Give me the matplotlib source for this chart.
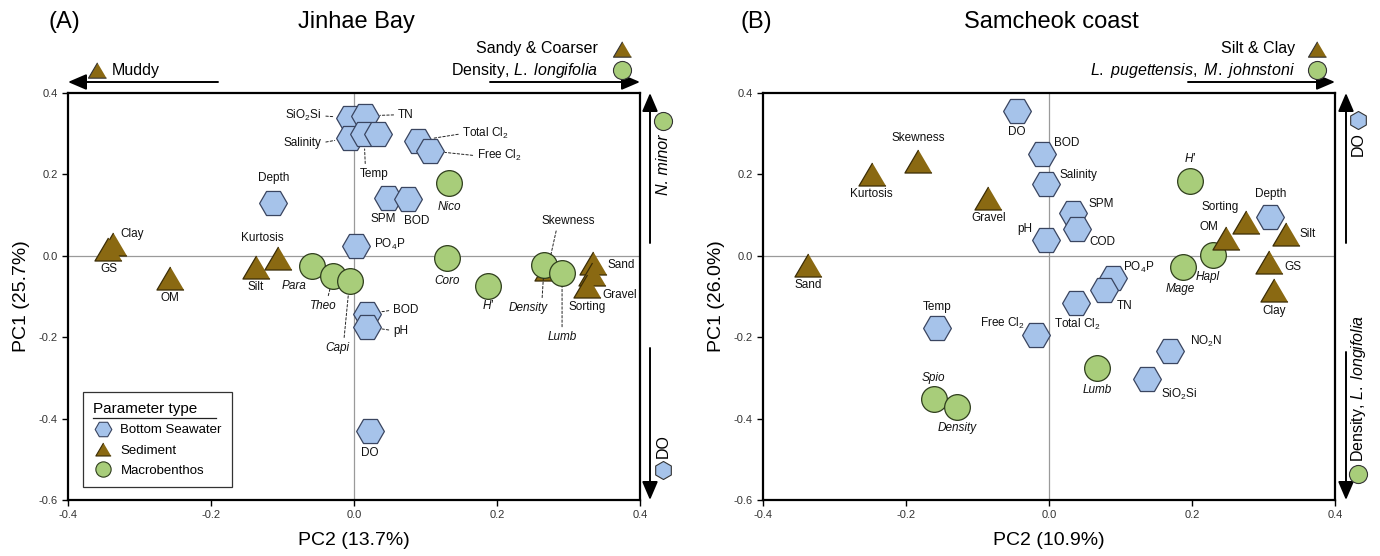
import matplotlib
matplotlib.use('Agg')
import matplotlib.pyplot as plt
from matplotlib.lines import Line2D
from matplotlib.patches import FancyArrowPatch

plt.rcParams['font.family'] = ['Liberation Sans', 'DejaVu Sans']
plt.rcParams['mathtext.fontset'] = 'custom'
plt.rcParams['mathtext.rm'] = 'Liberation Sans'
plt.rcParams['mathtext.it'] = 'Liberation Sans:italic'
plt.rcParams['mathtext.default'] = 'regular'

# ---- (A) Jinhae Bay ----
a_sea_names = ['SiO$_2$Si', 'TN', 'Salinity', 'Temp', '', 'Total Cl$_2$', 'Free Cl$_2$',
               'Depth', 'SPM', 'BOD', 'PO$_4$P', 'BOD', 'pH', 'DO']
a_sea_pc2 = [-0.006, 0.015, -0.006, 0.014, 0.034, 0.090, 0.106, -0.113, 0.048, 0.076, 0.003, 0.018, 0.018, 0.022]
a_sea_pc1 = [0.339, 0.344, 0.290, 0.300, 0.300, 0.283, 0.258, 0.130, 0.143, 0.140, 0.025, -0.143, -0.174, -0.430]

a_sed_names = ['Clay', 'GS', 'OM', 'Silt', 'Kurtosis', 'Skewness', 'Sand', 'Gravel', 'Sorting']
a_sed_pc2 = [-0.337, -0.344, -0.257, -0.137, -0.106, 0.271, 0.334, 0.333, 0.326]
a_sed_pc1 = [0.029, 0.017, -0.054, -0.027, -0.005, -0.032, -0.017, -0.044, -0.074]

a_mac_names = ['Para', 'Theo', 'Capi', 'Nico', 'Coro', "H'", 'Density', 'Lumb']
a_mac_pc2 = [-0.059, -0.029, -0.006, 0.133, 0.130, 0.187, 0.266, 0.291]
a_mac_pc1 = [-0.025, -0.049, -0.061, 0.179, -0.005, -0.074, -0.022, -0.042]

# ---- (B) Samcheok coast ----
b_sea_names = ['DO', 'BOD', 'Salinity', 'SPM', 'COD', 'pH', 'Temp', 'Free Cl$_2$', 'Total Cl$_2$',
               'PO$_4$P', 'TN', 'NO$_2$N', 'SiO$_2$Si', 'Depth']
b_sea_pc2 = [-0.045, -0.010, -0.004, 0.034, 0.039, -0.004, -0.157, -0.018, 0.038, 0.090, 0.077, 0.169, 0.137, 0.309]
b_sea_pc1 = [0.356, 0.251, 0.177, 0.106, 0.066, 0.039, -0.177, -0.194, -0.115, -0.054, -0.084, -0.233, -0.302, 0.096]

b_sed_names = ['Skewness', 'Kurtosis', 'Gravel', 'Sand', 'Sorting', 'OM', 'Silt', 'GS', 'Clay']
b_sed_pc2 = [-0.183, -0.248, -0.085, -0.337, 0.276, 0.248, 0.331, 0.308, 0.315]
b_sed_pc1 = [0.233, 0.201, 0.143, -0.022, 0.084, 0.044, 0.054, -0.015, -0.084]

b_mac_names = ["H'", 'Hapl', 'Mage', 'Lumb', 'Spio', 'Density']
b_mac_pc2 = [0.197, 0.229, 0.187, 0.067, -0.161, -0.129]
b_mac_pc1 = [0.184, 0.002, -0.027, -0.275, -0.351, -0.371]

# label placement (pixel offsets dx, dy, ha, leader relpos or None)
a_sea_lab = [(-28, 2, 'right', (1, 0.5)), (33, 1, 'left', (0, 0.5)), (-28, -5, 'right', (1, 0.5)),
             (10, -40, 'center', (0.2, 1)), (0, 0, 'center', None), (44, 7, 'left', (0, 0.5)),
             (47, -5, 'left', (0, 0.5)), (0, 25, 'center', None), (-5, -21, 'center', None),
             (8, -22, 'center', None), (18, 1, 'left', None), (26, 4, 'left', (0, 0.5)),
             (26, -4, 'left', (0, 0.5)), (0, -22, 'center', None)]
a_sed_lab = [(19, 10, 'center', None), (1, -20, 'center', None), (0, -20, 'center', None),
             (0, -20, 'center', None), (-16, 20, 'center', None), (20, 48, 'center', (0.3, 0)),
             (28, -2, 'center', None), (28, -21, 'center', None), (0, -21, 'center', None)]
a_mac_lab = [(-18, -20, 'center', None), (-10, -30, 'center', (0.65, 1)), (-12, -67, 'center', (0.75, 1)),
             (0, -24, 'center', None), (0, -23, 'center', None), (0, -20, 'center', None),
             (-16, -43, 'center', (0.85, 1)), (0, -64, 'center', (0.5, 1))]
b_sea_lab = [(0, -21), (25, 11), (32, 9), (28, 9), (25, -13), (-21, 11), (0, 21), (-34, 11),
             (1, -22), (25, 10), (21, -16), (36, 9), (32, -16), (1, 23)]
b_sed_lab = [(0, 23), (0, -20), (0, -20), (0, -20), (-26, 15), (-17, 11), (22, 0), (24, -5), (0, -21)]
b_mac_lab = [(0, 22), (-5, -22), (-2, -22), (0, -22), (0, 21), (0, -21)]

SEA_C, SED_C, MAC_C = '#a6c3ea', '#8a6912', '#a8cd7a'
TRI = [(0, 0.85), (-1, -0.85), (1, -0.85)]
W, H = 1380, 556


def fx(px):
    return px / W


def fy(py):
    return 1 - py / H


def put_labels(ax, names, xs, ys, specs, italic, r):
    for name, x, y, sp in zip(names, xs, ys, specs):
        if not name:
            continue
        if len(sp) == 2:
            sp = (sp[0], sp[1], 'center', None)
        dx, dy, ha, lead = sp
        kw = {}
        if lead is not None:
            kw['arrowprops'] = dict(arrowstyle='-', ls=(0, (2.5, 2)), lw=0.7, color='#222222',
                                    relpos=lead, shrinkA=1, shrinkB=r)
        ax.annotate(name, (x, y), xytext=(dx, dy), textcoords='offset pixels',
                    ha=ha, va='center', fontsize=8.5, color='#111111',
                    style='italic' if italic else 'normal', zorder=6, **kw)


def panel(ax, sea, sed, mac, z_sed, z_mac):
    ax.set_xlim(-0.4, 0.4)
    ax.set_ylim(-0.6, 0.4)
    ax.axhline(0, color='#9a9a9a', lw=0.9, zorder=0)
    ax.axvline(0, color='#9a9a9a', lw=0.9, zorder=0)
    ax.scatter(sea[1], sea[2], marker='H', s=20 ** 2, fc=SEA_C, ec='#3a4560', lw=0.9, zorder=3)
    ax.scatter(sed[1], sed[2], marker=TRI, s=19.5 ** 2, fc=SED_C, ec='#3a2c06', lw=0.9, zorder=z_sed)
    ax.scatter(mac[1], mac[2], marker='o', s=18.5 ** 2, fc=MAC_C, ec='#2e3d1c', lw=0.9, zorder=z_mac)
    put_labels(ax, sea[0], sea[1], sea[2], sea[3], False, 11)
    put_labels(ax, sed[0], sed[1], sed[2], sed[3], False, 10)
    put_labels(ax, mac[0], mac[1], mac[2], mac[3], True, 10)
    ax.set_xticks([-0.4, -0.2, 0.0, 0.2, 0.4])
    ax.set_xticklabels(['-0.4', '-0.2', '0.0', '0.2', '0.4'])
    ax.set_yticks([-0.6, -0.4, -0.2, 0.0, 0.2, 0.4])
    ax.set_yticklabels(['-0.6', '-0.4', '-0.2', '0.0', '0.2', '0.4'])
    ax.tick_params(direction='out', length=4, width=1, labelsize=8, labelcolor='#333333')
    for s in ax.spines.values():
        s.set_linewidth(1.6)


def arrow(x0, y0, x1, y1):
    fig.add_artist(FancyArrowPatch((fx(x0), fy(y0)), (fx(x1), fy(y1)), transform=fig.transFigure,
                                   arrowstyle='-|>,head_length=0.7,head_width=0.3', mutation_scale=16,
                                   lw=1.4, color='k', shrinkA=0, shrinkB=0))


def sym(x, y, kind, ms=13):
    m = {'sea': 'h', 'sed': TRI, 'mac': 'o'}[kind]
    c = {'sea': SEA_C, 'sed': SED_C, 'mac': MAC_C}[kind]
    fig.add_artist(Line2D([fx(x)], [fy(y)], marker=m, ms=ms, mfc=c, mec='#333333', mew=0.8,
                          ls='none', transform=fig.transFigure))


fig = plt.figure(figsize=(13.8, 5.56), dpi=100)
axA = fig.add_axes([fx(68), fy(500), (640 - 68) / W, (500 - 93) / H])
axB = fig.add_axes([fx(763), fy(500), (1335 - 763) / W, (500 - 93) / H])

panel(axA, (a_sea_names, a_sea_pc2, a_sea_pc1, a_sea_lab), (a_sed_names, a_sed_pc2, a_sed_pc1, a_sed_lab),
      (a_mac_names, a_mac_pc2, a_mac_pc1, a_mac_lab), 4, 5)
panel(axB, (b_sea_names, b_sea_pc2, b_sea_pc1, b_sea_lab), (b_sed_names, b_sed_pc2, b_sed_pc1, b_sed_lab),
      (b_mac_names, b_mac_pc2, b_mac_pc1, b_mac_lab), 5, 4)

axA.set_xlabel('PC2 (13.7%)', fontsize=14, labelpad=8)
axA.set_ylabel('PC1 (25.7%)', fontsize=14, labelpad=6)
axB.set_xlabel('PC2 (10.9%)', fontsize=14, labelpad=8)
axB.set_ylabel('PC1 (26.0%)', fontsize=14, labelpad=6)

fig.text(fx(48), fy(22), '(A)', fontsize=17, va='center')
fig.text(fx(356), fy(22), 'Jinhae Bay', fontsize=17, ha='center', va='center')
fig.text(fx(741), fy(22), '(B)', fontsize=17, va='center')
fig.text(fx(1051), fy(22), 'Samcheok coast', fontsize=17, ha='center', va='center')

# legend
handles = [Line2D([], [], marker='H', ls='none', ms=12, mfc=SEA_C, mec='#3a4560', mew=0.8),
           Line2D([], [], marker=TRI, ls='none', ms=11, mfc=SED_C, mec='#3a2c06', mew=0.8),
           Line2D([], [], marker='o', ls='none', ms=11, mfc=MAC_C, mec='#2e3d1c', mew=0.8)]
leg = axA.legend(handles, ['Bottom Seawater', 'Sediment', 'Macrobenthos'], loc='lower left',
                 bbox_to_anchor=(0.026, 0.032), title='Parameter type', fontsize=9.5, title_fontsize=11,
                 fancybox=False, edgecolor='#333333', framealpha=1, alignment='left',
                 handletextpad=0.5, labelspacing=0.62, borderpad=0.75, handlelength=1.6,
                 borderaxespad=0)
leg.get_frame().set_linewidth(0.9)

# side annotations (A)
sym(97, 70, 'sed')
fig.text(fx(112), fy(70), 'Muddy', fontsize=11.5, va='center')
arrow(218, 82, 68, 82)
fig.text(fx(598), fy(49), 'Sandy & Coarser', fontsize=11.5, ha='right', va='center')
sym(622, 49, 'sed')
fig.text(fx(598), fy(70), r'Density, $\it{L.\ longifolia}$', fontsize=11.5, ha='right', va='center')
sym(622, 70, 'mac')
arrow(490, 82, 640, 82)
arrow(650, 243, 650, 93)
sym(663, 121, 'mac')
fig.text(fx(663), fy(134), 'N. minor', fontsize=11.5, style='italic', rotation=90, ha='center', va='top')
arrow(650, 348, 650, 500)
sym(663, 470, 'sea')
fig.text(fx(663), fy(458), 'DO', fontsize=11.5, rotation=90, ha='center', va='bottom')

# side annotations (B)
fig.text(fx(1295), fy(49), 'Silt & Clay', fontsize=11.5, ha='right', va='center')
sym(1317, 49, 'sed')
fig.text(fx(1295), fy(70), r'$\it{L.\ pugettensis,\ M.\ johnstoni}$', fontsize=11.5, ha='right', va='center')
sym(1317, 70, 'mac')
arrow(1188, 82, 1335, 82)
arrow(1346, 243, 1346, 93)
sym(1358, 120, 'sea')
fig.text(fx(1358), fy(132), 'DO', fontsize=11.5, rotation=90, ha='center', va='top')
arrow(1346, 352, 1346, 500)
sym(1358, 474, 'mac')
fig.text(fx(1358), fy(462), r'Density, $\it{L.\ longifolia}$', fontsize=11.5, rotation=90,
         ha='center', va='bottom')

# underline legend title
fig.canvas.draw()
bb = leg.get_title().get_window_extent()
fig.add_artist(Line2D([bb.x0 / W, (bb.x0 + 123) / W], [(bb.y0 - 2) / H] * 2, color='#222222', lw=0.9,
                      transform=fig.transFigure))

fig.savefig('out.png', dpi=100)
